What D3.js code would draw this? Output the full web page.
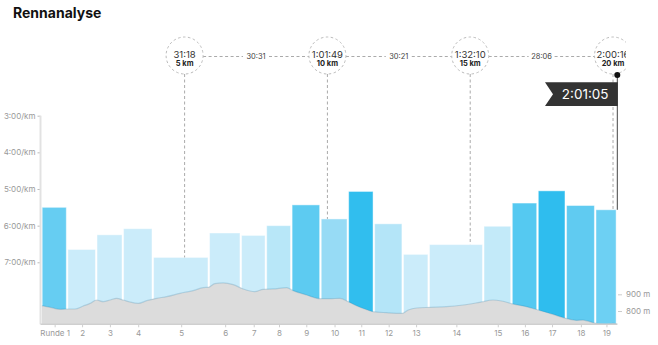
<!DOCTYPE html>
<html>
<head>
<meta charset="utf-8">
<script src="https://cdn.jsdelivr.net/npm/d3@7/dist/d3.min.js"></script>
<style>
  html, body { margin: 0; padding: 0; background: #fff; }
  svg { display: block; font-family: Inter, "Noto Sans", sans-serif; }
</style>
</head>
<body>
<svg id="chart" width="658" height="345"></svg>
<script>
// Lap data: labels, lap distance (km) and average pace (seconds per km)
const lapLabels = ["Runde 1","2","3","4","5","6","7","8","9","10","11","12","13","14","15","16","17","18","19"];
const lapDistances = [0.90, 1.02, 0.93, 1.05, 1.96, 1.12, 0.88, 0.89, 1.02, 0.96, 0.91, 1.01, 0.91, 1.91, 0.99, 0.91, 0.99, 1.03, 0.76];
const lapPaces = [330, 399, 375, 365, 412, 372, 376, 360, 326, 349, 304, 357, 407, 391, 361, 323, 303, 327, 334];

// Elevation profile: distance (km) and altitude (m)
const elevDist = [0, 0.29, 0.64, 0.87, 1.16, 1.45, 1.69, 1.92, 2.15, 2.39, 2.62, 2.85, 3.09, 3.38, 3.67, 4.02, 4.37, 4.84, 5.30, 5.65, 5.83, 6.06, 6.35, 6.70, 7.05, 7.46, 7.75, 8.10, 8.57, 8.80, 9.27, 9.74, 10.09, 10.44, 10.73, 11.02, 11.31, 11.60, 12.07, 12.62, 12.83, 13.12, 13.59, 14.17, 14.75, 15.33, 15.80, 16.10, 16.45, 16.97, 17.38, 17.90, 18.31, 18.72, 18.95, 19.36, 19.77, 20.00, 20.15];
const elevMeters = [832, 822, 810, 812, 812, 830, 846, 866, 856, 866, 876, 866, 854, 846, 862, 876, 886, 906, 922, 940, 942, 964, 968, 958, 932, 916, 930, 932, 940, 922, 896, 874, 874, 876, 856, 832, 812, 796, 790, 786, 806, 818, 822, 826, 836, 852, 866, 860, 844, 826, 806, 780, 758, 744, 746, 728, 722, 726, 722];

// Checkpoints: distance, elapsed time, split between consecutive checkpoints
const cpKm = [5, 10, 15, 20];
const cpTimes = ["31:18", "1:01:49", "1:32:10", "2:00:16"];
const splitTimes = ["30:31", "30:21", "28:06"];
const finishTime = "2:01:05";

// Axis ticks
const paceTicks = [180, 240, 300, 360, 420];
const elevTicks = [800, 900];

const svg = d3.select("#chart");

// cumulative lap boundaries
const lapStarts = [];
let acc = 0;
lapDistances.forEach(d => { lapStarts.push(acc); acc += d; });
const totalKm = acc;

const x = d3.scaleLinear().domain([0, totalKm]).range([41.8, 617.3]);
const y = d3.scaleLinear().domain([180, 520]).range([115.7, 323.4]);
const yElev = d3.scaleLinear().domain([720, 1000]).range([324.4, 277.6]);
const plotBottom = 324.3;

const paceColor = d3.scaleLinear()
  .domain([303, 323, 327, 334, 349, 357, 360, 361, 365])
  .range(["#2fbdee", "#55c9f1", "#60cbf1", "#6dd0f3", "#97dbf5", "#b4e5f8", "#b8e7f8", "#c3eaf9", "#cbecfa"])
  .clamp(true);

const fmtPace = s => `${Math.floor(s / 60)}:${String(s % 60).padStart(2, "0")}/km`;

// Title
svg.append("text")
  .attr("x", 13).attr("y", 17.5)
  .attr("font-size", 14).attr("font-weight", 700).attr("fill", "#111")
  .text("Rennanalyse");

// Pace bars
const laps = lapLabels.map((label, i) => ({
  label, start: lapStarts[i], end: lapStarts[i] + lapDistances[i], pace: lapPaces[i]
}));

svg.append("g").selectAll("rect")
  .data(laps)
  .join("rect")
  .attr("x", d => x(d.start) + 0.4)
  .attr("width", d => x(d.end) - x(d.start) - 1.6)
  .attr("y", d => y(d.pace))
  .attr("height", d => plotBottom - y(d.pace))
  .attr("fill", d => paceColor(d.pace))
  .attr("stroke", "rgba(255,255,255,0.45)")
  .attr("stroke-width", 1);

// Elevation profile
const elev = elevDist.map((d, i) => ({ d, m: elevMeters[i] }));
svg.append("path")
  .datum(elev)
  .attr("d", d3.area().x(p => x(p.d)).y0(plotBottom).y1(p => yElev(p.m)).curve(d3.curveMonotoneX))
  .attr("fill", "#dcdcdc");
svg.append("path")
  .datum(elev)
  .attr("d", d3.line().x(p => x(p.d)).y(p => yElev(p.m)).curve(d3.curveMonotoneX))
  .attr("fill", "none")
  .attr("stroke", "rgba(40,120,160,0.22)")
  .attr("stroke-width", 1.2);

// Left pace axis
const yAxis = svg.append("g")
  .attr("transform", "translate(40.5,0)")
  .call(d3.axisLeft(y).tickValues(paceTicks).tickFormat(fmtPace).tickSizeOuter(0).tickSize(3).tickPadding(2));
yAxis.select(".domain").remove();
yAxis.selectAll(".tick line").attr("stroke", "#bbb");
yAxis.selectAll(".tick text").attr("fill", "#999").attr("font-size", 8).attr("font-family", "Inter, sans-serif");
svg.append("line")
  .attr("x1", 40.5).attr("x2", 40.5).attr("y1", 115.7).attr("y2", plotBottom)
  .attr("stroke", "#e2e2e2").attr("stroke-width", 2);

// Bottom lap axis
const xAxis = svg.append("g")
  .attr("transform", `translate(0,${plotBottom})`)
  .call(d3.axisBottom(x)
    .tickValues(laps.map(l => (l.start + l.end) / 2))
    .tickFormat((v, i) => lapLabels[i])
    .tickSizeOuter(0).tickSize(3).tickPadding(3));
xAxis.select(".domain").attr("stroke", "#cfcfcf").attr("stroke-width", 1.5)
  .attr("d", `M${x(0) - 1.3},0H${x(totalKm)}`);
xAxis.selectAll(".tick line").attr("stroke", "#cfcfcf");
xAxis.selectAll(".tick text").attr("fill", "#999").attr("font-size", 8).attr("font-family", "Inter, sans-serif");

// Right elevation axis
const eAxis = svg.append("g")
  .attr("transform", "translate(618,0)")
  .call(d3.axisRight(yElev).tickValues(elevTicks).tickFormat(m => `${m} m`).tickSize(4).tickPadding(4));
eAxis.select(".domain").remove();
eAxis.selectAll(".tick line").attr("stroke", "#ccc");
eAxis.selectAll(".tick text").attr("fill", "#999").attr("font-size", 8).attr("font-family", "Inter, sans-serif");

// Checkpoint annotations
svg.append("clipPath").attr("id", "annoClip")
  .append("rect").attr("x", 0).attr("y", 0).attr("width", 626).attr("height", 345);
const anno = svg.append("g").attr("clip-path", "url(#annoClip)");

const cy = 55.5, r = 18.5, dash = "3,2.5";
const lapTopAt = km => {
  const lap = laps.find(l => km >= l.start && km < l.end) || laps[laps.length - 1];
  return y(lap.pace);
};

// connectors with split times
splitTimes.forEach((s, i) => {
  const x1 = x(cpKm[i]) + r, x2 = x(cpKm[i + 1]) - r, mid = (x(cpKm[i]) + x(cpKm[i + 1])) / 2;
  const half = 13;
  anno.append("line").attr("x1", x1).attr("x2", mid - half).attr("y1", cy + 1).attr("y2", cy + 1)
    .attr("stroke", "#aaa").attr("stroke-dasharray", dash);
  anno.append("line").attr("x1", mid + half).attr("x2", x2).attr("y1", cy + 1).attr("y2", cy + 1)
    .attr("stroke", "#aaa").attr("stroke-dasharray", dash);
  anno.append("text").attr("x", mid).attr("y", cy + 3.5)
    .attr("text-anchor", "middle").attr("font-size", 7.5).attr("fill", "#444").text(s);
});

cpKm.forEach((km, i) => {
  const cx = x(km);
  anno.append("line").attr("x1", cx).attr("x2", cx).attr("y1", cy + r).attr("y2", lapTopAt(km))
    .attr("stroke", "#aaa").attr("stroke-dasharray", dash);
  anno.append("circle").attr("cx", cx).attr("cy", cy).attr("r", r)
    .attr("fill", "#fff").attr("stroke", "#bbb").attr("stroke-dasharray", "2.5,2.5");
  anno.append("text").attr("x", cx).attr("y", cy + 2)
    .attr("text-anchor", "middle").attr("font-size", 9.5).attr("fill", "#333").text(cpTimes[i]);
  anno.append("text").attr("x", cx).attr("y", cy + 10.5)
    .attr("text-anchor", "middle").attr("font-size", 7.5).attr("font-weight", 700).attr("fill", "#222").text(`${km} km`);
});

// Finish flag
const fx = x(totalKm);
svg.append("line").attr("x1", fx).attr("x2", fx).attr("y1", 75).attr("y2", y(lapPaces[lapPaces.length - 1]))
  .attr("stroke", "#444").attr("stroke-width", 1);
svg.append("circle").attr("cx", fx).attr("cy", 75).attr("r", 3).attr("fill", "#111");
const fTop = 82.3, fBot = 106, fLeft = 545;
svg.append("path")
  .attr("d", `M${fLeft},${fTop}H${fx + 0.5}V${fBot}H${fLeft}L${fLeft + 8},${(fTop + fBot) / 2}Z`)
  .attr("fill", "#333");
svg.append("text").attr("x", (fLeft + 8 + fx) / 2).attr("y", 98.5)
  .attr("text-anchor", "middle").attr("font-size", 13.5).attr("fill", "#fff").text(finishTime);
</script>
</body>
</html>
